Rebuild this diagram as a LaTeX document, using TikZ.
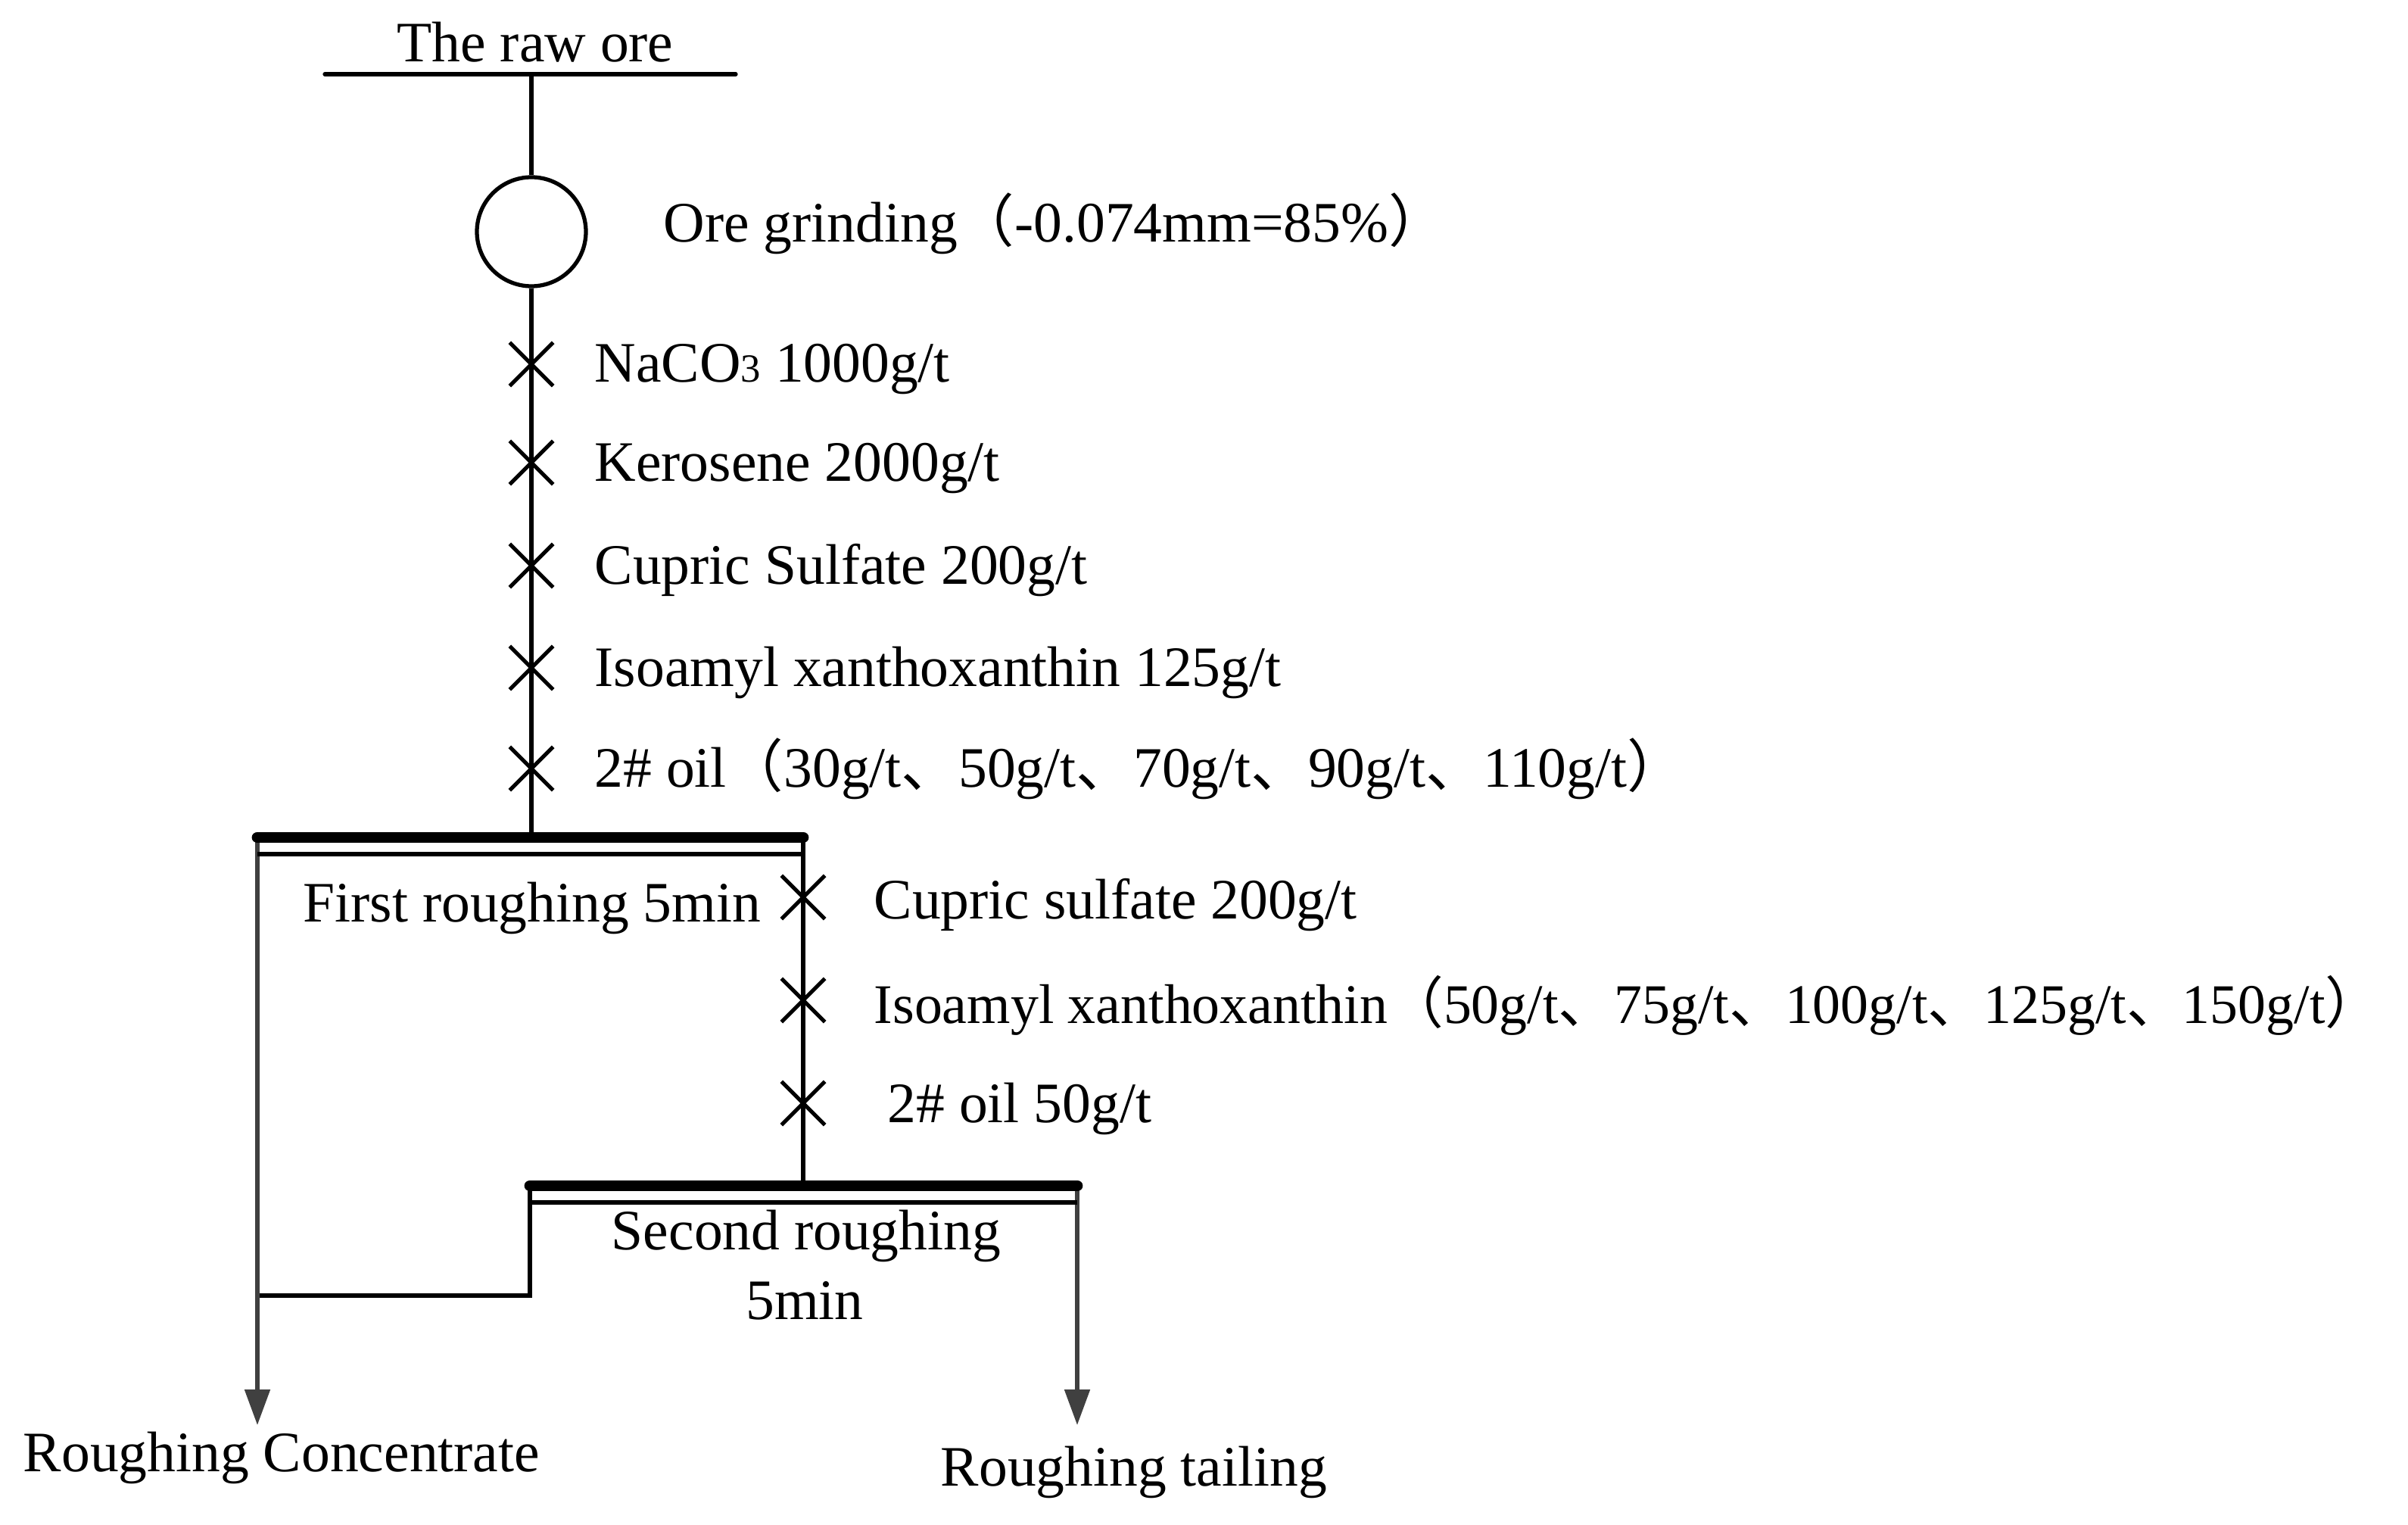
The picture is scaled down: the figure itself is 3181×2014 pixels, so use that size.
\documentclass[tikz,border=0pt]{standalone}
\usepackage{fontspec}
\setmainfont{Liberation Serif}
\newfontfamily\cjk{Noto Sans CJK SC}
\usetikzlibrary{arrows.meta,shapes.misc}

\definecolor{pipegray}{HTML}{404040}
\newcommand{\zh}[1]{{\cjk #1}}

\tikzset{
  txt/.style={inner sep=0pt, font=\fontsize{21.5}{26}\selectfont},
  flow/.style={line width=1.5pt},
  cellbar/.style={line width=4.2pt, line cap=round},
  product/.style={line width=1.5pt, draw=pipegray, -{Triangle[length=4.7mm,width=3.3mm,fill=pipegray]}},
  addx/.style={cross out, draw, line width=1.5pt, minimum width=5.2mm, minimum height=5.2mm, inner sep=0pt}
}

\begin{document}
\begin{tikzpicture}[x=0.1mm,y=-0.1mm]
  \useasboundingbox (0,0) rectangle (3181,2014);

  \node[txt, anchor=base] (raw) at (707,82) {The raw ore};
  \coordinate (rawL) at (429,98);
  \coordinate (rawR) at (972,98);
  \coordinate (rawM) at (702,98);
  \node[circle, draw, flow, minimum size=14.4mm, inner sep=0pt] (mill) at (702,306) {};
  \node[txt, anchor=base west] (milllab) at (876,320) {Ore grinding\zh{（}-0.074mm=85\%\zh{）}};

  \node[addx] (xa1) at (702,481) {};
  \node[addx] (xa2) at (702,611) {};
  \node[addx] (xa3) at (702,747) {};
  \node[addx] (xa4) at (702,882) {};
  \node[addx] (xa5) at (702,1015) {};
  \node[txt, anchor=base west] (ra1) at (785,505) {NaCO{\fontsize{15}{15}\selectfont 3} 1000g/t};
  \node[txt, anchor=base west] (ra2) at (785,636) {Kerosene 2000g/t};
  \node[txt, anchor=base west] (ra3) at (785,772) {Cupric Sulfate 200g/t};
  \node[txt, anchor=base west] (ra4) at (785,907) {Isoamyl xanthoxanthin 125g/t};
  \node[txt, anchor=base west] (ra5) at (785,1040) {2\# oil\zh{（}30g/t\zh{、}50g/t\zh{、}70g/t\zh{、}90g/t\zh{、}110g/t\zh{）}};

  \coordinate (c1L) at (340,1106);
  \coordinate (c1M) at (702,1106);
  \coordinate (c1R) at (1061,1106);
  \coordinate (c1l) at (340,1128);
  \coordinate (c1r) at (1061,1128);
  \node[txt, anchor=base] (cell1) at (703,1217) {First roughing 5min};

  \node[addx] (xb1) at (1061,1185) {};
  \node[addx] (xb2) at (1061,1321) {};
  \node[addx] (xb3) at (1061,1457) {};
  \node[txt, anchor=base west] (rb1) at (1154,1213) {Cupric sulfate 200g/t};
  \node[txt, anchor=base west, font=\fontsize{21}{26}\selectfont] (rb2) at (1154,1351) {Isoamyl xanthoxanthin\zh{（}50g/t\zh{、}75g/t\zh{、}100g/t\zh{、}125g/t\zh{、}150g/t\zh{）}\kern-0.55em};
  \node[txt, anchor=base west] (rb3) at (1172,1482) {2\# oil 50g/t};

  \coordinate (c2L) at (700,1566);
  \coordinate (c2M) at (1061,1566);
  \coordinate (c2R) at (1423,1566);
  \coordinate (c2l) at (700,1588);
  \coordinate (c2r) at (1423,1588);
  \coordinate (c2D) at (700,1711);
  \coordinate (join) at (340,1711);
  \node[txt, anchor=base] (cell2a) at (1065,1650) {Second roughing};
  \node[txt, anchor=base] (cell2b) at (1063,1742) {5min};

  \coordinate (concIn) at (340,1882);
  \coordinate (tailIn) at (1423,1882);
  \node[txt, anchor=base] (conc) at (372,1943) {Roughing Concentrate};
  \node[txt, anchor=base] (tail) at (1498,1962) {Roughing tailing};

  \draw[flow, line cap=round] (rawL) -- (rawR);
  \draw[flow] (rawM) -- (mill.north);
  \draw[flow] (mill.south) -- (c1M);
  \draw[flow] (c1R) -- (c2M);
  \draw[flow] (c2L) -- (c2D) -- (join);
  \draw[product] (c1L) -- (concIn);
  \draw[product] (c2R) -- (tailIn);
  \draw[cellbar] (c1L) -- (c1R);
  \draw[flow] (c1l) -- (c1r);
  \draw[cellbar] (c2L) -- (c2R);
  \draw[flow] (c2l) -- (c2r);
\end{tikzpicture}
\end{document}
